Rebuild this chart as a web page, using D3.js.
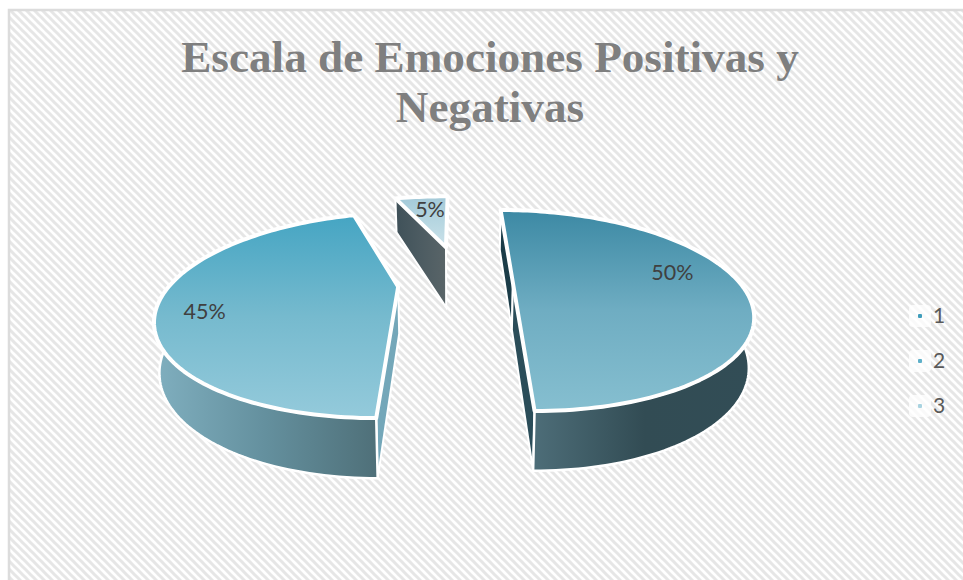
<!DOCTYPE html>
<html>
<head>
<meta charset="utf-8">
<script src="https://cdn.jsdelivr.net/npm/d3@7"></script>
<style>
  html, body { margin: 0; padding: 0; background: #fff; overflow: hidden; }
</style>
</head>
<body>
<div id="chart"></div>
<script>
// Chart data
var categories = ["1", "2", "3"];
var values = [50, 45, 5];
var titleLines = ["Escala de Emociones Positivas y", "Negativas"];

// Colours per slice
var topFrom = ["#3c89a4", "#45a5c3", "#a3c9d8"];
var topMid = ["#6fadc2", "#76bace", "#b6d6e1"];
var topTo = ["#86bfd0", "#94cadb", "#cbe2ea"];
var wallFrom = ["#4d6d78", "#80afbf", "#3f5159"];
var wallMid = ["#324c54", "#64909e", "#4d5c62"];
var wallTo = ["#324d56", "#4f7079", "#5a6568"];
var cutColors = [["#1b3c48", "#2b4d59"], ["#74a7b9"], ["url(#wall2)"]];
var legendColor = ["#3f9dbb", "#5fb0c9", "#a9d3e0"];

// Layout of the tilted pie
var w = 963, h = 580;
var cx = 455.5, cy = 283;
var a = 227, b = 93, k = 0.2736;
var explode = [0.253, 0.253, 0.433];
var radius = [1, 1, 0.824];
var widen = [1, 1, 1.2];
var shiftU = [0, 0, 0.021];

// Wall depth at the apex and how it changes going down the picture
var depthApex = [47, 47, 60];
var depthSlope = [0.1, 0.1, 0.53];
var shrink = 0.018;

// Labels: fraction of radius along the slice bisector, then a nudge
var labelRadius = [0.68, 0.68, 0.6];
var labelNudge = [[5, -8], [-33, 16], [-3, -3]];

var svg = d3.select("#chart").append("svg")
    .attr("width", w)
    .attr("height", h);
var defs = svg.append("defs");

// Hatched background
var hatch = defs.append("pattern")
    .attr("id", "hatch")
    .attr("patternUnits", "userSpaceOnUse")
    .attr("width", 8)
    .attr("height", 8);
hatch.append("rect").attr("width", 8).attr("height", 8).attr("fill", "#fff");
hatch.append("path")
    .attr("d", "M-4,-4 L12,12 M-4,4 L4,12 M4,-4 L12,4")
    .attr("stroke", "#e6e6e6")
    .attr("stroke-width", 3);

svg.append("rect")
    .attr("x", 9)
    .attr("y", 10)
    .attr("width", w + 20)
    .attr("height", h + 20)
    .attr("fill", "url(#hatch)")
    .attr("stroke", "#dcdcdc")
    .attr("stroke-width", 2.5);

// Title
svg.append("g").selectAll("text")
    .data(titleLines)
    .enter()
    .append("text")
    .attr("x", 490)
    .attr("y", function(d, i) { return 72 + i * 50; })
    .attr("text-anchor", "middle")
    .attr("font-family", "'Liberation Serif', serif")
    .attr("font-weight", "bold")
    .attr("font-size", 45.2)
    .attr("fill", "#7f7f7f")
    .text(function(d) { return d; });

// Project a point of the pie plane on to the page
function project(u, v) {
    var s = 1 - k * v;
    return [cx + a * u / s, cy + b * v / s];
}

// Same point on the underside of the pie
function under(p, i, apex) {
    var d = depthApex[i] + depthSlope[i] * (p[1] - apex[1]);
    return [p[0] + (cx - p[0]) * shrink, p[1] + d];
}

var pie = d3.pie().sort(null);
var arcs = pie(values);
var line = d3.line();
var total = d3.sum(values);

var slices = arcs.map(function(d, i) {
    var mid = (d.startAngle + d.endAngle) / 2;
    var ou = Math.sin(mid) * explode[i] + shiftU[i], ov = -Math.cos(mid) * explode[i];
    var n = Math.max(8, Math.round((d.endAngle - d.startAngle) * 40));
    var rim = [], front = [];
    d3.range(n + 1).forEach(function(j) {
        var t = d.startAngle + (d.endAngle - d.startAngle) * j / n;
        var p = project(ou + widen[i] * radius[i] * Math.sin(t), ov - radius[i] * Math.cos(t));
        rim.push(p);
        // only the part of the rim that faces the viewer gets a wall
        if (Math.cos(t) < 0.3) { front.push(p); }
    });
    var lr = labelRadius[i];
    var lab = project(ou + lr * radius[i] * Math.sin(mid), ov - lr * radius[i] * Math.cos(mid));
    return { i: i, apex: project(ou, ov), rim: rim, front: front, label: lab };
});

function addGradient(id, x1, y1, x2, y2, stops) {
    var g = defs.append("linearGradient")
        .attr("id", id)
        .attr("gradientUnits", "userSpaceOnUse")
        .attr("x1", x1).attr("y1", y1)
        .attr("x2", x2).attr("y2", y2);
    stops.forEach(function(c, j) {
        g.append("stop")
            .attr("offset", j / (stops.length - 1))
            .attr("stop-color", c);
    });
}

var pies = svg.append("g");

slices.forEach(function(s) {
    var i = s.i;
    var g = pies.append("g");
    var apexLow = under(s.apex, i, s.apex);

    var xs = s.rim.map(function(p) { return p[0]; });
    var ys = s.rim.concat([s.apex]).map(function(p) { return p[1]; });
    var x0 = d3.min(xs), x1 = d3.max(xs);
    if (i == 0) { x0 = s.rim[s.rim.length - 1][0]; }
    if (i == 1) { x1 = s.rim[0][0]; }

    addGradient("top" + i, 0, d3.min(ys), 0, d3.max(ys), [topFrom[i], topMid[i], topTo[i]]);
    addGradient("wall" + i, x0, 0, x1, 0, [wallFrom[i], wallMid[i], wallTo[i]]);

    // Cut faces along the straight edges that can be seen
    cutColors[i].forEach(function(color, j) {
        var p = j == 0 ? s.rim[0] : s.rim[s.rim.length - 1];
        var low = under(p, i, s.apex);
        g.append("path")
            .attr("d", line([s.apex, p, low, apexLow]) + "Z")
            .attr("fill", color)
            .attr("stroke", "#fff")
            .attr("stroke-width", 2);
    });

    // Rim wall
    if (s.front.length > 1) {
        var frontLow = s.front.map(function(p) { return under(p, i, s.apex); });
        g.append("path")
            .attr("d", line(s.front.concat(frontLow.slice().reverse())) + "Z")
            .attr("fill", "url(#wall" + i + ")")
            .attr("stroke", "#fff")
            .attr("stroke-width", 2.5);
    }

    // Top face
    g.append("path")
        .attr("d", line([s.apex].concat(s.rim)) + "Z")
        .attr("fill", "url(#top" + i + ")")
        .attr("stroke", "#fff")
        .attr("stroke-width", 4)
        .attr("stroke-linejoin", "round");
});

// Percent labels
svg.append("g").selectAll("text")
    .data(slices)
    .enter()
    .append("text")
    .attr("x", function(d) { return d.label[0] + labelNudge[d.i][0]; })
    .attr("y", function(d) { return d.label[1] + labelNudge[d.i][1]; })
    .attr("text-anchor", "middle")
    .attr("dominant-baseline", "middle")
    .attr("font-family", "Lato, sans-serif")
    .attr("font-size", 21.5)
    .attr("fill", "#404040")
    .text(function(d) { return Math.round(values[d.i] / total * 100) + "%"; });

// Legend
var legendY = d3.scalePoint().domain(categories).range([316, 406]);
var legend = svg.append("g").selectAll("g")
    .data(categories)
    .enter()
    .append("g")
    .attr("transform", function(d) { return "translate(920," + legendY(d) + ")"; });
legend.append("rect")
    .attr("x", -11).attr("y", -11)
    .attr("width", 22).attr("height", 22)
    .attr("rx", 4)
    .attr("fill", "#fff")
    .attr("fill-opacity", 0.75);
legend.append("rect")
    .attr("x", -2).attr("y", -2)
    .attr("width", 4).attr("height", 4)
    .attr("rx", 1)
    .attr("fill", function(d, i) { return legendColor[i]; });
legend.append("text")
    .attr("x", 13)
    .attr("y", 7)
    .attr("font-family", "Lato, sans-serif")
    .attr("font-size", 21)
    .attr("fill", "#595959")
    .text(function(d) { return d; });
</script>
</body>
</html>
